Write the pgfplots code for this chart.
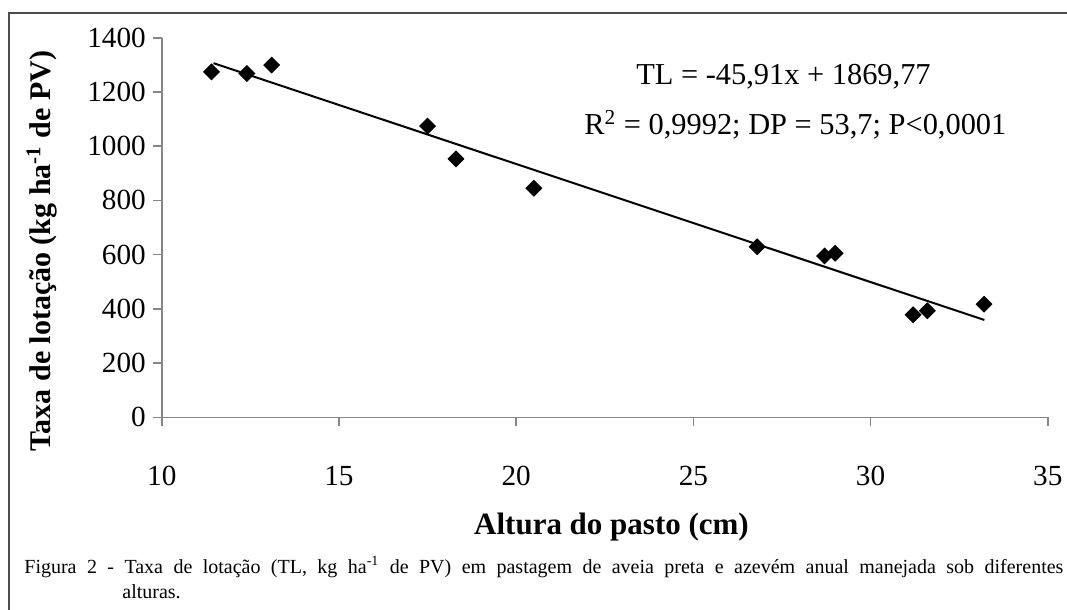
\documentclass[border=0pt]{standalone}
\usepackage{fontspec}
\setmainfont{Liberation Serif}
\usepackage{pgfplots}
\usepackage{pgfplotstable}
\pgfplotsset{compat=1.18}
\definecolor{axisgray}{HTML}{868686}
\definecolor{framegray}{HTML}{4D4D4D}

% altura do pasto (cm) x taxa de lotacao
\pgfplotstableread{
x y
11.4 1274
12.4 1268
13.1 1299
17.5 1074
18.3 953
20.5 845
26.8 629
28.7 595
29.0 605
31.2 378
31.6 393
33.2 417
}\dados

\begin{document}
\begin{tikzpicture}[x=1pt,y=1pt]
\useasboundingbox (0,0) rectangle (533.5,-305);
\draw[framegray, line width=1pt] (4.3,-305) -- (4.3,-6.3) -- (533.5,-6.3);
\begin{axis}[
    at={(80.9pt,-208.65pt)}, anchor=south west,
    scale only axis, width=443pt, height=189.8pt,
    xmin=10, xmax=35, ymin=0, ymax=1400,
    xtick={10,15,20,25,30,35},
    ytick={0,200,400,600,800,1000,1200,1400},
    axis lines*=left,
    axis line style={axisgray, line width=0.8pt},
    tick style={axisgray, line width=0.8pt},
    tick align=outside,
    major tick length=4.5pt,
    /pgf/number format/assume math mode=true,
    /pgf/number format/1000 sep={},
    tick label style={font=\fontsize{14.6}{16}\selectfont},
    xticklabel style={anchor=base, yshift=-29.7pt},
    yticklabel style={anchor=east},
    ylabel={Taxa de lotação (kg ha\textsuperscript{-1} de PV)},
    ylabel style={at={(axis description cs:-0.1352,0.438)}, anchor=center,
      rotate=0, font=\bfseries\fontsize{15}{17}\selectfont},
    xlabel={Altura do pasto (cm)},
    xlabel style={at={(axis description cs:0.5076,-0.288)}, anchor=center,
      font=\bfseries\fontsize{15.5}{17}\selectfont},
    clip=false,
]
\addplot[black, line width=1pt] coordinates {(11.46,1306) (33.21,359)};
\addplot[only marks, mark=square*, mark size=2.8pt,
    mark options={rotate=45, fill=black, draw=black}] table[x=x, y=y] {\dados};
\node[font=\fontsize{15.2}{17}\selectfont, anchor=center]
    at (axis description cs:0.7017,0.8973) {TL = -45,91x + 1869,77};
\node[font=\fontsize{15.2}{17}\selectfont, anchor=center]
    at (axis description cs:0.7151,0.770) {R\textsuperscript{2} = 0,9992; DP = 53,7; P<0,0001};
\end{axis}
\node[anchor=base west, inner sep=0pt] at (12,-286.5) {\parbox[t]{519.5pt}{%
  \fontsize{10}{12.65}\selectfont\hangindent=49pt\hangafter=1
  Figura 2 - Taxa de lotação (TL, kg ha\textsuperscript{-1} de PV) em pastagem de aveia preta e azevém anual manejada sob diferentes\linebreak alturas.}};
\end{tikzpicture}
\end{document}
